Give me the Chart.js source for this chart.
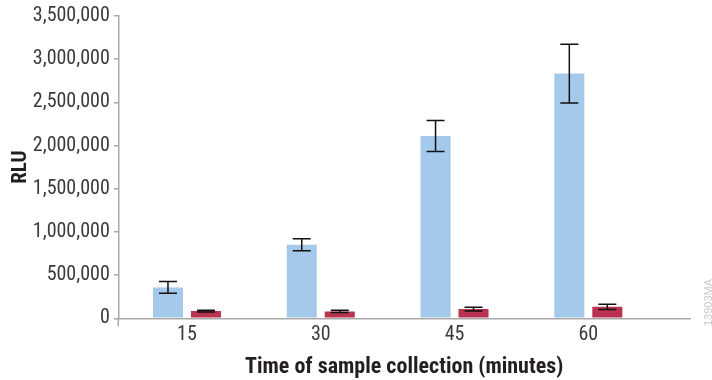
<!DOCTYPE html>
<html><head><meta charset="utf-8">
<script src="https://cdn.jsdelivr.net/npm/chart.js@4"></script>
<style>html,body{margin:0;padding:0;background:#fff}#wrap{width:712px;height:380px;position:relative}</style>
</head><body><div id="wrap"><canvas id="c"></canvas></div>
<script>
// Data
const times = [15, 30, 45, 60];
const sampleRLU = [358000, 851000, 2111000, 2833000];
const sampleErr = [67000, 70000, 180000, 340000];
const controlRLU = [84000, 80000, 107000, 133000];
const controlErr = [10000, 12000, 22000, 30000];
const yMax = 3500000, yStep = 500000;

const AXIS = '#a9a9a9', TXT = '#231f20';
const NARROW = "'Liberation Sans Narrow','Roboto Condensed','Liberation Sans',Arial,sans-serif";

const errs = [sampleErr, controlErr];

// error bars + little extras the library does not draw
const extras = {
  id:'extras',
  afterDatasetsDraw(chart){
    const {ctx, scales:{y}} = chart;
    ctx.save();
    ctx.strokeStyle='#111'; ctx.lineWidth=1.5;
    chart.data.datasets.forEach((ds,i)=>{
      chart.getDatasetMeta(i).data.forEach((bar,j)=>{
        const v = ds.data[j].y, e = errs[i][j];
        const top = y.getPixelForValue(v+e), bot = y.getPixelForValue(v-e);
        ctx.beginPath();
        ctx.moveTo(bar.x, top); ctx.lineTo(bar.x, bot);
        ctx.moveTo(bar.x-9, top); ctx.lineTo(bar.x+9, top);
        ctx.moveTo(bar.x-9, bot); ctx.lineTo(bar.x+9, bot);
        ctx.stroke();
      });
    });
    ctx.restore();
  },
  afterDraw(chart){
    const {ctx, chartArea:a} = chart;
    ctx.save();
    // y axis runs a bit below the x axis
    ctx.strokeStyle=AXIS; ctx.lineWidth=1.5;
    ctx.beginPath(); ctx.moveTo(a.left, a.bottom); ctx.lineTo(a.left, a.bottom+8); ctx.stroke();
    // figure id
    ctx.translate(709, 326); ctx.rotate(-Math.PI/2);
    ctx.fillStyle='#cacaca'; ctx.font="11px 'Liberation Sans',sans-serif";
    ctx.textAlign='left'; ctx.textBaseline='middle';
    ctx.fillText('13903MA', 0, 0);
    ctx.restore();
  }
};

new Chart(document.getElementById('c'), {
  type:'bar',
  data:{
    datasets:[
      { data: times.map((t,i)=>({x:t, y:sampleRLU[i]})), backgroundColor:'#a4c9eb' },
      { data: times.map((t,i)=>({x:t, y:controlRLU[i]})), backgroundColor:'#b93250' }
    ]
  },
  options:{
    responsive:true, maintainAspectRatio:false, animation:false,
    categoryPercentage:0.568, barPercentage:0.79,
    layout:{ padding:{ top:12.7, right:22, left:0, bottom:0 } },
    plugins:{ legend:{display:false}, tooltip:{enabled:false} },
    scales:{
      x:{
        type:'linear', min:7.3, max:71.4, offset:false,
        afterBuildTicks:(s)=>{ s.ticks = times.map(v=>({value:v})); },
        afterFit:(s)=>{ s.height = 61.7; },
        grid:{ display:false, drawTicks:false },
        border:{ display:true, color:AXIS, width:1.5 },
        ticks:{ color:'#3a3a3a', padding:5, font:{ family:NARROW, size:20 }, maxRotation:0 },
        title:{ display:true, text:'Time of sample collection (minutes)', color:TXT,
                font:{ family:NARROW, size:22, weight:'bold', lineHeight:1.1 }, padding:{top:0,bottom:0} }
      },
      y:{
        min:0, max:yMax,
        afterFit:(s)=>{ s.width = 118.3; },
        grid:{ drawOnChartArea:false, drawTicks:true, tickLength:4.5, color:AXIS, lineWidth:1.5 },
        border:{ display:true, color:AXIS, width:1.5 },
        ticks:{ stepSize:yStep, color:'#3a3a3a', padding:4, font:{ family:NARROW, size:20 },
                callback:(v)=>v.toLocaleString('en-US') },
        title:{ display:true, text:'RLU', color:TXT,
                font:{ family:NARROW, size:21, weight:'bold', lineHeight:1.1 }, padding:{top:9,bottom:0} }
      }
    }
  },
  plugins:[extras]
});
</script>
</body></html>
